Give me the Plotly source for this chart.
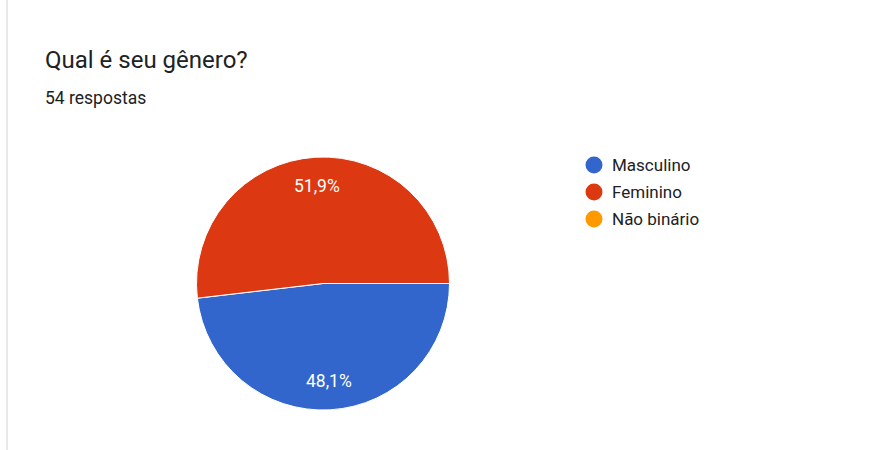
import math
import plotly.graph_objects as go

labels = ["Masculino", "Feminino", "Não binário"]
values = [26, 28, 0]
colors = ["#3366CC", "#DC3912", "#FF9900"]
title_text = "Qual é seu gênero?"
subtitle_text = "54 respostas"

W, H = 882, 450
FONT = "Roboto, Arial, sans-serif"

# pie geometry (pixels)
cx, cy, R = 323.0, 283.5, 126.5

fig = go.Figure()
fig.add_trace(go.Pie(
    labels=labels, values=values, sort=False, direction="clockwise", rotation=90,
    marker=dict(colors=colors, line=dict(color="white", width=1)),
    textinfo="none", showlegend=False, hoverinfo="skip",
    domain=dict(x=[(cx - R) / W, (cx + R) / W], y=[(H - cy - R) / H, (H - cy + R) / H]),
))

annotations = [
    dict(text=title_text, x=43 / W, y=1 - 60 / H, xref="paper", yref="paper",
         xanchor="left", yanchor="middle", showarrow=False,
         font=dict(family=FONT, size=24, color="#202124")),
    dict(text=subtitle_text, x=43 / W, y=1 - 98 / H, xref="paper", yref="paper",
         xanchor="left", yanchor="middle", showarrow=False,
         font=dict(family=FONT, size=17.5, color="#202124")),
]

# percentage labels placed along slice mid-angles
total = sum(values)
cum = 0.0
for v in values:
    if v > 0:
        mid = (cum + v / 2) / total  # fraction clockwise from 3 o'clock
        ang = 2 * math.pi * mid
        px = cx + 0.775 * R * math.cos(ang)
        py = cy + 0.775 * R * math.sin(ang)
        pct = f"{100 * v / total:.1f}".replace(".", ",") + "%"
        annotations.append(dict(text=pct, x=px / W, y=1 - py / H, xref="paper", yref="paper",
                                xanchor="center", yanchor="middle", showarrow=False,
                                font=dict(family=FONT, size=17.5, color="white")))
    cum += v

# legend drawn manually with circles
shapes = [dict(type="line", xref="paper", yref="paper", x0=7 / W, x1=7 / W, y0=0, y1=1,
               line=dict(color="#e8e8e8", width=2))]
lx, ly0, dy, d = 594.0, 165.0, 27.0, 17.0
for i, (lab, col) in enumerate(zip(labels, colors)):
    yc = ly0 + i * dy
    shapes.append(dict(type="circle", xref="paper", yref="paper",
                       x0=(lx - d / 2) / W, x1=(lx + d / 2) / W,
                       y0=1 - (yc + d / 2) / H, y1=1 - (yc - d / 2) / H,
                       fillcolor=col, line=dict(width=0)))
    annotations.append(dict(text=lab, x=610 / W, y=1 - yc / H, xref="paper", yref="paper",
                            xanchor="left", yanchor="middle", showarrow=False,
                            font=dict(family=FONT, size=17, color="#202124")))

fig.update_layout(
    width=W, height=H, margin=dict(l=0, r=0, t=0, b=0),
    paper_bgcolor="white", plot_bgcolor="white",
    shapes=shapes, annotations=annotations,
)

fig.write_html("out.html")
